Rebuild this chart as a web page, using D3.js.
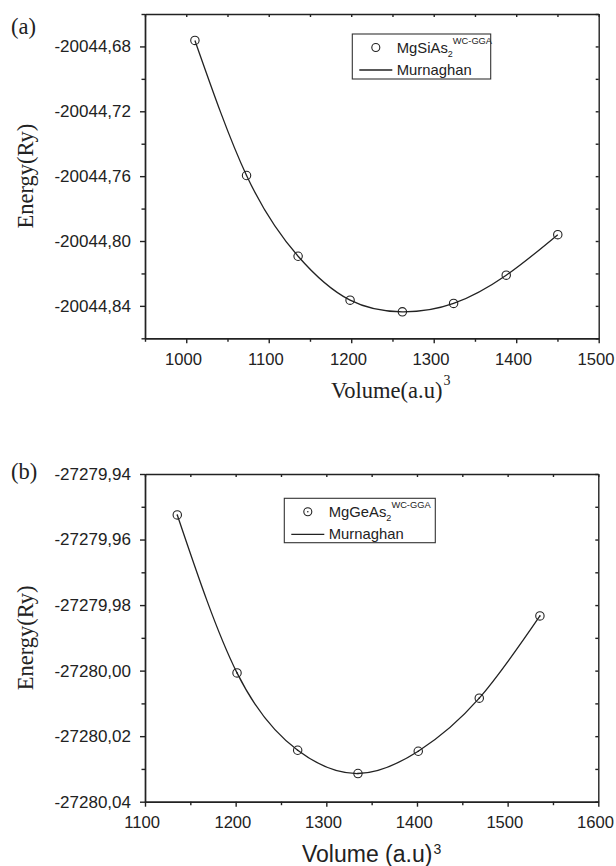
<!DOCTYPE html>
<html>
<head>
<meta charset="utf-8">
<script src="https://cdn.jsdelivr.net/npm/d3@7"></script>
<style>
  html, body { margin: 0; padding: 0; background: #fff; }
  svg { display: block; }
  .tick text { font-family: "Liberation Sans", Arial, sans-serif; font-size: 17px; fill: #222; }
  .xaxis .tick text { font-size: 16.6px; }
  .domain, .tick line { stroke: #222; stroke-width: 1.4px; }
</style>
</head>
<body>
<script>
// Panel (a): MgSiAs2, WC-GGA total energy vs. cell volume
const volumeSi = [1010.5, 1073.1, 1135.6, 1198.6, 1262.0, 1324.1, 1387.9, 1450.4];
const energySi = [-20044.6763, -20044.7596, -20044.8094, -20044.8365, -20044.8437, -20044.8385, -20044.8211, -20044.7961];
const xMajorSi = [1000, 1100, 1200, 1300, 1400, 1500];
const xMinorSi = [950, 1050, 1150, 1250, 1350, 1450];
const yMajorSi = [-20044.84, -20044.80, -20044.76, -20044.72, -20044.68];
const yMinorSi = [-20044.86, -20044.82, -20044.78, -20044.74, -20044.70, -20044.66];

// Panel (b): MgGeAs2, WC-GGA total energy vs. cell volume
const volumeGe = [1135.6, 1201.5, 1268.4, 1334.9, 1401.4, 1468.7, 1535.6];
const energyGe = [-27279.9525, -27280.0007, -27280.0243, -27280.0314, -27280.0246, -27280.0084, -27279.9833];
const xMajorGe = [1100, 1200, 1300, 1400, 1500, 1600];
const xMinorGe = [1150, 1250, 1350, 1450, 1550];
const yMajorGe = [-27280.04, -27280.02, -27280.00, -27279.98, -27279.96, -27279.94];
const yMinorGe = [-27280.03, -27280.01, -27279.99, -27279.97, -27279.95];

const locale = d3.formatLocale({ decimal: ",", thousands: "", grouping: [3], currency: ["", ""], minus: "-" });
const fmt2 = locale.format(".2f");

const svg = d3.select("body").append("svg").attr("width", 616).attr("height", 866);

function drawPanel(cfg) {
  const g = svg.append("g");
  const x = d3.scaleLinear().domain(cfg.xDomain).range([cfg.left, cfg.right]);
  const y = d3.scaleLinear().domain(cfg.yDomain).range([cfg.bottom, cfg.top]);

  // left axis: outward major + minor ticks
  g.append("g").attr("transform", `translate(${cfg.left},0)`)
    .call(d3.axisLeft(y).tickValues(cfg.yMajor).tickFormat(fmt2).tickSize(5).tickPadding(9).tickSizeOuter(0));
  g.append("g").attr("transform", `translate(${cfg.left},0)`)
    .call(d3.axisLeft(y).tickValues(cfg.yMinor).tickFormat("").tickSize(3.5).tickSizeOuter(0));
  // bottom axis
  g.append("g").attr("class", "xaxis").attr("transform", `translate(0,${cfg.bottom})`)
    .call(d3.axisBottom(x).tickValues(cfg.xMajor).tickFormat(d3.format("d")).tickSize(5).tickPadding(9.8).tickSizeOuter(0))
    .selectAll(".tick text").attr("dx", -3.3);
  g.append("g").attr("transform", `translate(0,${cfg.bottom})`)
    .call(d3.axisBottom(x).tickValues(cfg.xMinor).tickFormat("").tickSize(3.5).tickSizeOuter(0));
  // top and right axes: inward ticks, no labels
  g.append("g").attr("transform", `translate(0,${cfg.top})`)
    .call(d3.axisTop(x).tickValues(cfg.xMajor.concat(cfg.xMinor)).tickFormat("").tickSize(-3).tickSizeOuter(0));
  g.append("g").attr("transform", `translate(${cfg.right},0)`)
    .call(d3.axisRight(y).tickValues(cfg.yMajor.concat(cfg.yMinor)).tickFormat("").tickSize(-3).tickSizeOuter(0));

  // fitted Murnaghan curve through the computed energies
  const pts = cfg.volume.map((v, i) => [v, cfg.energy[i]]);
  g.append("path")
    .datum(pts)
    .attr("fill", "none")
    .attr("stroke", "#222")
    .attr("stroke-width", 1.3)
    .attr("d", d3.line().x(d => x(d[0])).y(d => y(d[1])).curve(d3.curveNatural));

  // computed points
  g.selectAll("circle.pt").data(pts).enter().append("circle")
    .attr("class", "pt")
    .attr("cx", d => x(d[0])).attr("cy", d => y(d[1])).attr("r", 4.2)
    .attr("fill", "none").attr("stroke", "#222").attr("stroke-width", 1.1);
  if (cfg.dotted) {
    g.selectAll("circle.dot").data(pts).enter().append("circle")
      .attr("class", "dot")
      .attr("cx", d => x(d[0])).attr("cy", d => y(d[1])).attr("r", 0.8)
      .attr("fill", "#222");
  }

  // legend
  const L = cfg.legend;
  const lg = g.append("g");
  lg.append("rect").attr("x", L.x).attr("y", L.y).attr("width", L.w).attr("height", L.h)
    .attr("fill", "#fff").attr("stroke", "#333").attr("stroke-width", 1.1);
  lg.append("circle").attr("cx", L.x + 23.5).attr("cy", L.y + 13.5).attr("r", 4)
    .attr("fill", "none").attr("stroke", "#222").attr("stroke-width", 1.1);
  if (cfg.dotted) {
    lg.append("circle").attr("cx", L.x + 23.5).attr("cy", L.y + 13.5).attr("r", 0.8).attr("fill", "#222");
  }
  lg.append("line").attr("x1", L.x + 7).attr("x2", L.x + 40).attr("y1", L.y + 36).attr("y2", L.y + 36)
    .attr("stroke", "#222").attr("stroke-width", 1.3);
  const t1 = lg.append("text").attr("x", L.x + 44.5).attr("y", L.y + 19)
    .attr("font-family", "Liberation Sans, Arial, sans-serif").attr("font-size", 14.8).attr("fill", "#222");
  t1.append("tspan").text(cfg.compound);
  t1.append("tspan").attr("font-size", 9).attr("dy", 4).text("2");
  t1.append("tspan").attr("font-size", 9.3).attr("dy", -13).text("WC-GGA");
  lg.append("text").attr("x", L.x + 44.5).attr("y", L.y + 41)
    .attr("font-family", "Liberation Sans, Arial, sans-serif").attr("font-size", 14.8).attr("fill", "#222")
    .text("Murnaghan");

  // y-axis title
  svg.append("text")
    .attr("transform", `translate(33,${(cfg.top + cfg.bottom) / 2}) rotate(-90)`)
    .attr("text-anchor", "middle")
    .attr("font-family", "Liberation Serif, 'Times New Roman', serif").attr("font-size", 22.5).attr("fill", "#222")
    .text("Energy(Ry)");

  // panel tag
  svg.append("text").attr("x", 11).attr("y", cfg.tagY)
    .attr("font-family", "Liberation Serif, 'Times New Roman', serif").attr("font-size", 22.5).attr("fill", "#222")
    .text(cfg.tag);
}

drawPanel({
  xDomain: [950, 1500], yDomain: [-20044.86, -20044.66],
  left: 145, right: 598.7, top: 14, bottom: 338.3,
  volume: volumeSi, energy: energySi,
  xMajor: xMajorSi, xMinor: xMinorSi, yMajor: yMajorSi, yMinor: yMinorSi,
  legend: { x: 352.3, y: 34, w: 138.4, h: 45 },
  compound: "MgSiAs", dotted: false, tag: "(a)", tagY: 33.5
});

drawPanel({
  xDomain: [1100, 1600], yDomain: [-27280.04, -27279.94],
  left: 145, right: 598.3, top: 474, bottom: 801.7,
  volume: volumeGe, energy: energyGe,
  xMajor: xMajorGe, xMinor: xMinorGe, yMajor: yMajorGe, yMinor: yMinorGe,
  legend: { x: 284.3, y: 498.3, w: 151, h: 44.4 },
  compound: "MgGeAs", dotted: true, tag: "(b)", tagY: 478.5
});

// x-axis titles
const ta = svg.append("text").attr("x", 331).attr("y", 398)
  .attr("font-family", "Liberation Serif, 'Times New Roman', serif").attr("font-size", 22.5).attr("fill", "#222");
ta.append("tspan").text("Volume(a.u)");
ta.append("tspan").attr("font-size", 14).attr("dy", -13).attr("dx", 1).text("3");

const tb = svg.append("text").attr("x", 302).attr("y", 861.5)
  .attr("font-family", "Liberation Sans, Arial, sans-serif").attr("font-size", 23).attr("fill", "#222");
tb.append("tspan").text("Volume (a.u)");
tb.append("tspan").attr("font-size", 14).attr("dy", -8).attr("dx", 1).text("3");
</script>
</body>
</html>
